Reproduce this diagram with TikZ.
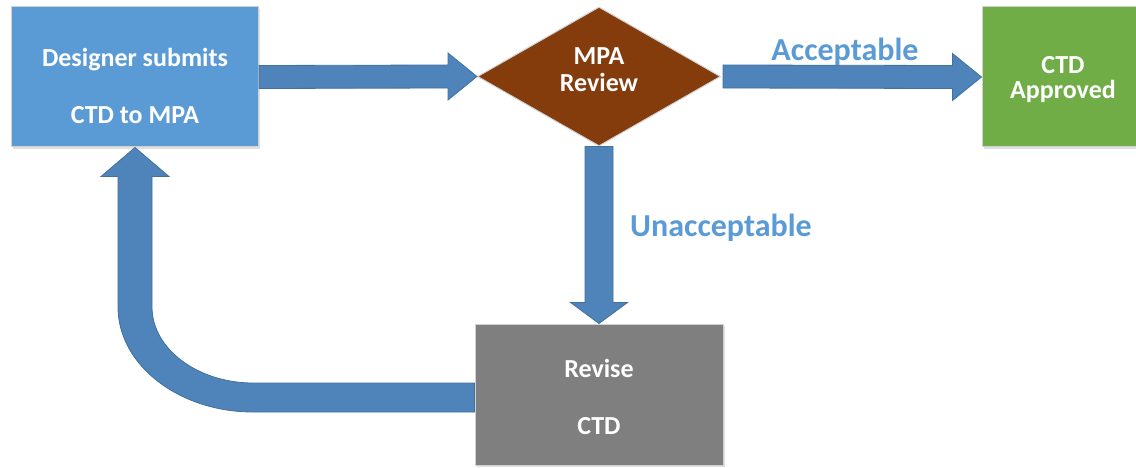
\documentclass[tikz,border=0pt]{standalone}
\usepackage{fontspec}
\setmainfont{Carlito}
\usetikzlibrary{shapes.geometric,calc,shadows}
\definecolor{boxblue}{HTML}{5B9BD5}
\definecolor{arrowblue}{HTML}{4F84BA}
\definecolor{arrowedge}{HTML}{41719C}
\definecolor{brownfill}{HTML}{843C0C}
\definecolor{greenfill}{HTML}{70AD47}
\definecolor{grayfill}{HTML}{7F7F7F}
\definecolor{labelblue}{HTML}{5B9BD5}
\tikzset{
  procbox/.style={rectangle, draw=black!18, line width=1pt, inner sep=0pt,
    drop shadow={shadow xshift=1.5pt, shadow yshift=-2pt, opacity=0.25}},
  boxtext/.style={text=white, font=\bfseries\fontsize{26}{26}\selectfont, align=center, inner sep=0pt},
  decision/.style={diamond, draw=black!18, line width=1pt, fill=brownfill, inner sep=0pt, aspect=1.75},
  blockarrow/.style={fill=arrowblue, draw=arrowedge, line width=0.8pt, line join=miter},
  edgelabel/.style={text=labelblue, font=\bfseries\fontsize{32}{34}\selectfont, inner sep=0pt}
}
\begin{document}
\begin{tikzpicture}[x=1pt, y=-1pt]
\useasboundingbox (0,0) rectangle (1136,468);
\clip (0,0) rectangle (1136,468);
\fill[white] (0,0) rectangle (1136,468);

% nodes
\node[procbox, fill=boxblue, minimum width=247pt, minimum height=140pt,
  label={[boxtext, yshift=-9pt]center:Designer submits\\[31pt]CTD to MPA}] (design) at (135,77) {};
\node[decision, minimum width=243pt, minimum height=139pt,
  label={[boxtext, yshift=7pt]center:MPA\\[1pt]Review}] (mpa) at (599,76.5) {};
\node[procbox, fill=greenfill, minimum width=162pt, minimum height=140pt,
  label={[boxtext, yshift=-3pt]center:CTD\\[-1pt]Approved}] (approved) at (1063,77) {};
\node[procbox, fill=grayfill, minimum width=248pt, minimum height=141pt,
  label={[boxtext, yshift=-2pt]center:Revise\\[31pt]CTD}] (revise) at (599,394.5) {};

% arrow design -> mpa
\draw[blockarrow]
  ($(design.east)+(0,-11.5)$) -- ($(mpa.west)+(-29,-11.5)$) -- ($(mpa.west)+(-29,-23.5)$)
  -- (mpa.west) -- ($(mpa.west)+(-29,23.5)$) -- ($(mpa.west)+(-29,11.5)$)
  -- ($(design.east)+(0,11.5)$) -- cycle;

% arrow mpa -> approved
\draw[blockarrow]
  ($(mpa.east)+(2,-11.5)$) -- ($(approved.west)+(-29,-11.5)$) -- ($(approved.west)+(-29,-23.5)$)
  -- (approved.west) -- ($(approved.west)+(-29,23.5)$) -- ($(approved.west)+(-29,11.5)$)
  -- ($(mpa.east)+(2,11.5)$) -- cycle;

% arrow mpa -> revise
\draw[blockarrow]
  ($(mpa.south)+(-14,0)$) -- ($(revise.north)+(-14,-21)$) -- ($(revise.north)+(-28.5,-21)$)
  -- (revise.north) -- ($(revise.north)+(28.5,-21)$) -- ($(revise.north)+(14,-21)$)
  -- ($(mpa.south)+(14,0)$) -- cycle;

% curved arrow revise -> design
\coordinate (rw) at (revise.west);
\coordinate (ds) at (design.south);
\draw[blockarrow]
  (rw |- 0,383) -- (253,383)
  .. controls (198,383) and (152,349) .. (152,307)
  -- ($(ds)+(17,29)$) -- ($(ds)+(34,29)$) -- (ds) -- ($(ds)+(-34,29)$) -- ($(ds)+(-17,29)$)
  -- (118,307)
  .. controls (118,365) and (179,412) .. (253,412)
  -- (rw |- 0,412) -- cycle;

% labels
\node[edgelabel] (acc) at (845,52) {Acceptable};
\node[edgelabel] (unacc) at (721,228) {Unacceptable};
\end{tikzpicture}
\end{document}
